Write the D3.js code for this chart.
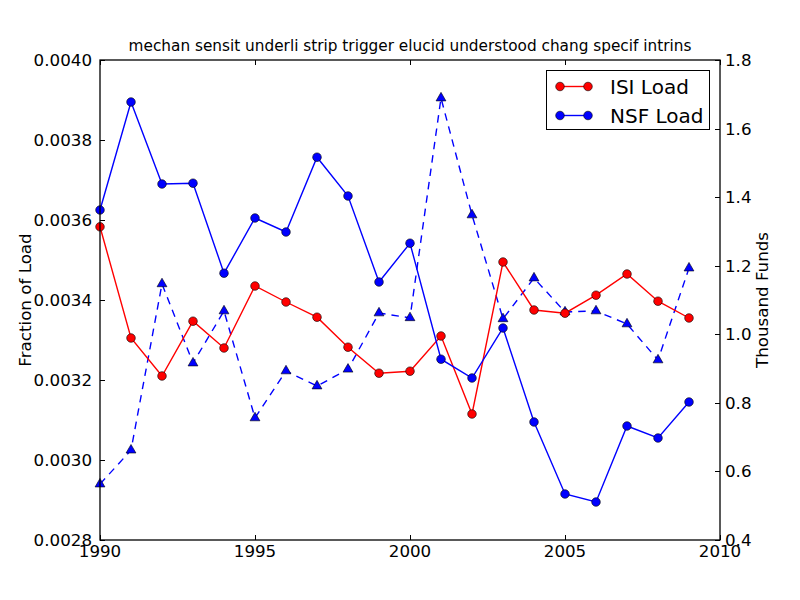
<!DOCTYPE html>
<html><head><meta charset="utf-8">
<script src="https://cdn.jsdelivr.net/npm/d3@7"></script>
<style>body{margin:0;background:#fff;} text{font-family:"DejaVu Sans",sans-serif;}</style>
</head><body><svg id="c" width="800" height="600"></svg>
<script>
const years = [1990,1991,1992,1993,1994,1995,1996,1997,1998,1999,2000,2001,2002,2003,2004,2005,2006,2007,2008,2009];
const isiLoad = [0.003583,0.003305,0.003210,0.003347,0.003280,0.003435,0.003395,0.003357,0.003282,0.003217,0.003222,0.003310,0.003115,0.003495,0.003375,0.003367,0.003412,0.003465,0.003397,0.003355];
const nsfLoad = [0.003625,0.003895,0.003690,0.003692,0.003467,0.003605,0.003570,0.003757,0.003660,0.003445,0.003542,0.003252,0.003205,0.003330,0.003095,0.002915,0.002895,0.003085,0.003055,0.003145];
const funds = [0.563,0.662,1.147,0.916,1.068,0.756,0.893,0.849,0.898,1.062,1.048,1.689,1.348,1.045,1.164,1.065,1.068,1.030,0.925,1.193];
const xTicks = [1990,1995,2000,2005,2010];
const leftTicks = [0.0028,0.0030,0.0032,0.0034,0.0036,0.0038,0.0040];
const rightTicks = [0.4,0.6,0.8,1.0,1.2,1.4,1.6,1.8];
const title = "mechan sensit underli strip trigger elucid understood chang specif intrins";

const svg = d3.select("#c");
const L=100,R=720,T=60,B=540;
const x = d3.scaleLinear().domain([1990,2010]).range([L,R]);
const yL = d3.scaleLinear().domain([0.0028,0.0040]).range([B,T]);
const yR = d3.scaleLinear().domain([0.4,1.8]).range([B,T]);

// ticks
const tk = svg.append("g").attr("stroke","#000").attr("stroke-width",1);
xTicks.forEach(v=>{const px=Math.round(x(v))+0.5;
  tk.append("line").attr("x1",px).attr("x2",px).attr("y1",B).attr("y2",B-5);
  tk.append("line").attr("x1",px).attr("x2",px).attr("y1",T).attr("y2",T+5);});
leftTicks.forEach(v=>{const py=Math.round(yL(v))+0.5;
  tk.append("line").attr("x1",L).attr("x2",L+5).attr("y1",py).attr("y2",py);});
rightTicks.forEach(v=>{const py=Math.round(yR(v))+0.5;
  tk.append("line").attr("x1",R).attr("x2",R-5).attr("y1",py).attr("y2",py);});

const fs=16.7;
svg.append("g").selectAll("text").data(xTicks).join("text")
  .attr("x",d=>x(d)).attr("y",B+17).attr("text-anchor","middle").attr("font-size",fs).text(d=>d);
svg.append("g").selectAll("text").data(leftTicks).join("text")
  .attr("x",L-8).attr("y",d=>yL(d)+6).attr("text-anchor","end").attr("font-size",fs).text(d=>d3.format(".4f")(d));
svg.append("g").selectAll("text").data(rightTicks).join("text")
  .attr("x",R+5).attr("y",d=>yR(d)+6).attr("text-anchor","start").attr("font-size",fs).text(d=>d3.format(".1f")(d));

svg.append("text").attr("x",(L+R)/2).attr("y",T-9).attr("text-anchor","middle").attr("font-size",15.3).text(title);
svg.append("text").attr("transform",`translate(31,${(T+B)/2}) rotate(-90)`).attr("text-anchor","middle").attr("font-size",fs).text("Fraction of Load");
svg.append("text").attr("transform",`translate(768,${(T+B)/2}) rotate(-90)`).attr("text-anchor","middle").attr("font-size",fs).text("Thousand Funds");

const plot = svg.append("g");

function lineSeries(vals, ys, color, dash, marker){
  const g = plot.append("g");
  g.append("path").datum(vals).attr("fill","none").attr("stroke",color).attr("stroke-width",1.4)
   .attr("stroke-dasharray",dash||null)
   .attr("d",d3.line().x((d,i)=>x(years[i])).y(d=>ys(d)));
  if(marker==="o"){
    g.selectAll("circle").data(vals).join("circle").attr("cx",(d,i)=>x(years[i])).attr("cy",d=>ys(d)).attr("r",4.3)
     .attr("fill",color).attr("stroke","#000").attr("stroke-width",0.6);
  } else {
    g.selectAll("path.m").data(vals).join("path").attr("class","m")
     .attr("d",d3.symbol().type(d3.symbolTriangle).size(42))
     .attr("transform",(d,i)=>`translate(${x(years[i])},${ys(d)})`)
     .attr("fill",color).attr("stroke","#000").attr("stroke-width",0.6);
  }
}
lineSeries(funds, yR, "#0000ff", "7.5,6", "^");
lineSeries(isiLoad, yL, "#ff0000", null, "o");
lineSeries(nsfLoad, yL, "#0000ff", null, "o");

// frame
svg.append("rect").attr("x",L).attr("y",T).attr("width",R-L).attr("height",B-T).attr("fill","none").attr("stroke","#000").attr("stroke-width",1.3);

// legend
const lg = svg.append("g");
lg.append("rect").attr("x",546.5).attr("y",70.5).attr("width",163).attr("height",59).attr("fill","#fff").attr("stroke","#000").attr("stroke-width",1);
[["ISI Load","#ff0000",86.5],["NSF Load","#0000ff",115.5]].forEach(([lab,c,yy])=>{
  lg.append("line").attr("x1",560).attr("x2",588).attr("y1",yy).attr("y2",yy).attr("stroke",c).attr("stroke-width",1.4);
  [560,588].forEach(cx=>lg.append("circle").attr("cx",cx).attr("cy",yy).attr("r",4.3).attr("fill",c).attr("stroke","#000").attr("stroke-width",0.6));
  lg.append("text").attr("x",610).attr("y",yy+7).attr("font-size",20).text(lab);
});
</script></body></html>
